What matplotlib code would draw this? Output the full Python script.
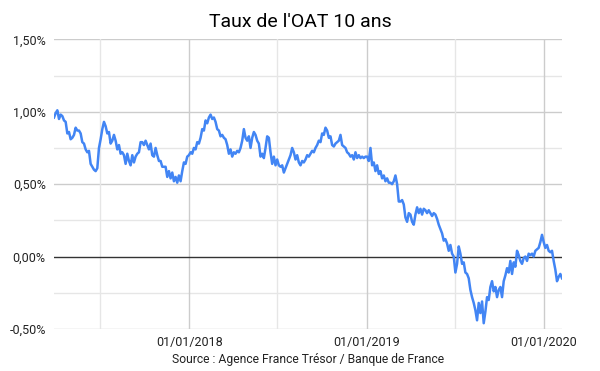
import matplotlib
matplotlib.use("Agg")
import matplotlib.pyplot as plt
import matplotlib.dates as mdates
from matplotlib.ticker import FixedLocator, FuncFormatter
import pandas as pd

title = "Taux de l'OAT 10 ans"
source = "Source : Agence France Trésor / Banque de France"
start_date = "2017-03-28"
end_date = "2020-02-07"

# OAT 10-year yield, % (~3.4-day spacing)
rates = [
    0.96, 0.99, 1.01, 0.95, 0.98, 0.97, 0.94, 0.93, 0.85, 0.86,
    0.81, 0.82, 0.84, 0.89, 0.87, 0.87, 0.85, 0.79, 0.78, 0.74,
    0.72, 0.73, 0.64, 0.62, 0.60, 0.59, 0.61, 0.75, 0.81, 0.88,
    0.93, 0.90, 0.85, 0.86, 0.78, 0.80, 0.84, 0.80, 0.74, 0.77,
    0.71, 0.72, 0.70, 0.64, 0.71, 0.66, 0.63, 0.70, 0.65, 0.69,
    0.71, 0.72, 0.79, 0.79, 0.77, 0.80, 0.77, 0.74, 0.78, 0.70,
    0.69, 0.75, 0.70, 0.66, 0.66, 0.62, 0.62, 0.62, 0.55, 0.59,
    0.54, 0.58, 0.52, 0.55, 0.51, 0.56, 0.52, 0.59, 0.65, 0.64,
    0.69, 0.70, 0.72, 0.71, 0.75, 0.74, 0.79, 0.78, 0.82, 0.88,
    0.87, 0.94, 0.92, 0.96, 0.98, 0.95, 0.96, 0.93, 0.88, 0.87,
    0.83, 0.84, 0.82, 0.81, 0.77, 0.71, 0.74, 0.69, 0.72, 0.71,
    0.73, 0.72, 0.75, 0.80, 0.88, 0.82, 0.80, 0.83, 0.75, 0.82,
    0.86, 0.84, 0.80, 0.78, 0.69, 0.71, 0.68, 0.75, 0.83, 0.82,
    0.72, 0.64, 0.69, 0.63, 0.67, 0.63, 0.62, 0.63, 0.58, 0.61,
    0.64, 0.67, 0.70, 0.75, 0.72, 0.67, 0.70, 0.65, 0.63, 0.66,
    0.65, 0.67, 0.70, 0.69, 0.71, 0.73, 0.72, 0.75, 0.77, 0.80,
    0.79, 0.85, 0.84, 0.89, 0.87, 0.82, 0.83, 0.77, 0.76, 0.78,
    0.79, 0.80, 0.84, 0.77, 0.76, 0.75, 0.72, 0.71, 0.69, 0.70,
    0.67, 0.72, 0.68, 0.70, 0.68, 0.69, 0.68, 0.69, 0.69, 0.66,
    0.75, 0.63, 0.65, 0.59, 0.63, 0.57, 0.59, 0.54, 0.56, 0.52,
    0.54, 0.51, 0.51, 0.50, 0.52, 0.56, 0.50, 0.38, 0.38, 0.39,
    0.36, 0.27, 0.24, 0.30, 0.29, 0.24, 0.22, 0.29, 0.34, 0.30,
    0.33, 0.29, 0.33, 0.32, 0.30, 0.32, 0.30, 0.28, 0.30, 0.29,
    0.26, 0.22, 0.19, 0.16, 0.11, 0.12, 0.09, 0.04, 0.08, 0.02,
    0.00, -0.11, -0.05, 0.07, 0.02, -0.05, -0.04, -0.11, -0.12, -0.15,
    -0.23, -0.28, -0.32, -0.37, -0.44, -0.32, -0.39, -0.31, -0.46, -0.38,
    -0.28, -0.30, -0.21, -0.17, -0.24, -0.21, -0.28, -0.23, -0.21, -0.28,
    -0.17, -0.13, -0.08, -0.11, -0.03, -0.12, -0.04, -0.07, 0.04, 0.01,
    -0.03, -0.05, -0.01, 0.00, -0.03, 0.02, 0.01, 0.02, 0.00, 0.04,
    0.05, 0.06, 0.10, 0.15, 0.10, 0.06, 0.08, 0.04, 0.03, 0.04,
    -0.03, -0.09, -0.17, -0.14, -0.12, -0.15,
]

y_major = [-0.5, 0.0, 0.5, 1.0, 1.5]
y_minor = [-0.25, 0.25, 0.75, 1.25]
x_major = ["2018-01-01", "2019-01-01", "2020-01-01"]
x_minor = ["2017-07-01", "2018-07-01", "2019-07-01"]
x_labels = ["01/01/2018", "01/01/2019", "01/01/2020"]

dates = pd.date_range(start_date, end_date, periods=len(rates))

plt.rcParams["font.family"] = ["Roboto", "DejaVu Sans"]
fig = plt.figure(figsize=(6, 3.71), dpi=100)
ax = fig.add_axes([54 / 600, 1 - 329 / 371, (562 - 54) / 600, (329 - 39.3) / 371])

for v in y_minor:
    ax.axhline(v, color="#e6e6e6", lw=1, zorder=0)
for v in y_major:
    if v != 0:
        ax.axhline(v, color="#cccccc", lw=1, zorder=0)
for d in x_minor:
    ax.axvline(pd.Timestamp(d), color="#e6e6e6", lw=1, zorder=0)
for d in x_major:
    ax.axvline(pd.Timestamp(d), color="#cccccc", lw=1, zorder=0)
ax.axhline(0, color="#333333", lw=1, zorder=1)

ax.plot(dates, rates, color="#4285F4", lw=1.8, zorder=3, solid_joinstyle="round")

ax.set_xlim(dates[0], dates[-1])
ax.set_ylim(-0.5, 1.5)
ax.yaxis.set_major_locator(FixedLocator(y_major))
ax.yaxis.set_major_formatter(FuncFormatter(lambda v, p: f"{v:.2f}%".replace(".", ",")))
ax.set_xticks([mdates.date2num(pd.Timestamp(d)) for d in x_major])
ax.set_xticklabels(x_labels)
for s in ax.spines.values():
    s.set_visible(False)
ax.tick_params(axis="both", length=0, labelsize=9, colors="#222222")
ax.tick_params(axis="y", pad=6)
ax.tick_params(axis="x", pad=5)

fig.text(300 / 600, 1 - 22 / 371, title, ha="center", va="center", fontsize=14, color="#000000")
fig.text(308 / 600, 1 - 359 / 371, source, ha="center", va="center", fontsize=8.7, color="#222222")

fig.savefig("out.png", dpi=100, facecolor="white")
